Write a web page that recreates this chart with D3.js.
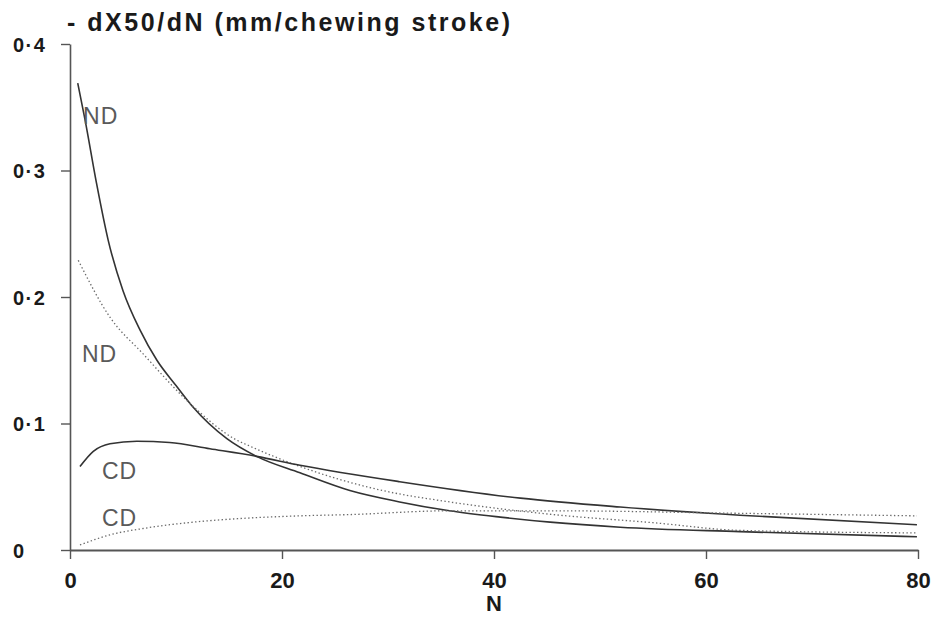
<!DOCTYPE html>
<html>
<head>
<meta charset="utf-8">
<script src="https://cdn.jsdelivr.net/npm/d3@7"></script>
<style>
  html, body { margin: 0; padding: 0; background: #fff; }
  svg { display: block; }
  text { font-family: "Liberation Sans", Arial, Helvetica, sans-serif; }
</style>
</head>
<body>
<svg id="chart" width="936" height="618"></svg>
<script>
// ---- data ----
const xTicks = [0, 20, 40, 60, 80];
const yTicks = [0, 0.1, 0.2, 0.3, 0.4];
const titleText = "- dX50/dN (mm/chewing stroke)";
const xTitle = "N";

// ND, solid line
const ndSolidN = [0.73, 1.42, 2.5, 3.6, 5.0, 6.6, 8.2, 10.0, 11.6, 14.8, 17.6, 21.7, 26.4, 31.1, 35.8, 40.6, 45.3, 51.9, 63.2, 79.9];
const ndSolidV = [0.369, 0.340, 0.290, 0.245, 0.205, 0.174, 0.150, 0.130, 0.113, 0.088, 0.074, 0.061, 0.047, 0.038, 0.031, 0.026, 0.022, 0.018, 0.0145, 0.0105];

// ND, dotted line
const ndDotN = [0.78, 3.77, 6.9, 11.3, 15.7, 17.0, 21.7, 29.5, 35.8, 45.6, 55.0, 63.2, 79.9];
const ndDotV = [0.229, 0.184, 0.155, 0.116, 0.087, 0.082, 0.066, 0.047, 0.038, 0.028, 0.0216, 0.0155, 0.0135];

// CD, solid line
const cdSolidN = [0.94, 2.2, 3.77, 6.3, 9.4, 13.2, 17.6, 21.7, 31.1, 42.5, 51.9, 63.2, 79.9];
const cdSolidV = [0.066, 0.078, 0.084, 0.086, 0.085, 0.080, 0.074, 0.067, 0.054, 0.041, 0.034, 0.0275, 0.020];

// CD, dotted line
const cdDotN = [0.94, 3.77, 6.9, 11.6, 16.3, 21.7, 26.4, 35.8, 45.3, 63.2, 79.9];
const cdDotV = [0.004, 0.012, 0.017, 0.022, 0.025, 0.027, 0.028, 0.031, 0.031, 0.029, 0.027];

const seriesLabels = ["ND", "ND", "CD", "CD"];

// ---- drawing ----
const svg = d3.select("#chart");
const x = d3.scaleLinear().domain([0, 80]).range([70, 918]);
const y = d3.scaleLinear().domain([0, 0.4]).range([550, 44]);

const fmt = d => d === 0 ? "0" : d3.format(".1f")(d).replace(".", "\u00B7");

// Y axis
const gy = svg.append("g").attr("transform", `translate(${x(0)},0)`)
  .call(d3.axisLeft(y).tickValues(yTicks).tickSize(9).tickSizeOuter(0).tickFormat(fmt));
gy.select(".domain").attr("stroke", "#555").attr("stroke-width", 1.6);
gy.selectAll(".tick line").attr("stroke", "#555").attr("stroke-width", 1.4);
gy.selectAll(".tick text")
  .attr("text-anchor", "start")
  .attr("x", 13 - x(0))
  .attr("dy", "0.36em")
  .style("font-size", "20px")
  .style("font-weight", "bold")
  .style("letter-spacing", "1.5px")
  .attr("fill", "#1a1a1a");

// X axis
const gx = svg.append("g").attr("transform", `translate(0,${y(0)})`)
  .call(d3.axisBottom(x).tickValues(xTicks).tickSize(9).tickSizeOuter(0).tickFormat(d3.format("d")));
gx.select(".domain").attr("stroke", "#555").attr("stroke-width", 1.8);
gx.selectAll(".tick line").attr("stroke", "#555").attr("stroke-width", 1.4);
gx.selectAll(".tick text")
  .attr("y", 0).attr("dy", "38px")
  .style("font-size", "22px")
  .style("font-weight", "bold")
  .attr("fill", "#1a1a1a");

// Title & axis label
svg.append("text")
  .attr("x", 67).attr("y", 31)
  .attr("textLength", 443).attr("lengthAdjust", "spacing")
  .style("font-size", "25px").style("font-weight", "bold")
  .attr("fill", "#1a1a1a")
  .text(titleText);

svg.append("text")
  .attr("x", x(40)).attr("y", 611)
  .attr("text-anchor", "middle")
  .style("font-size", "22px").style("font-weight", "bold")
  .attr("fill", "#1a1a1a")
  .text(xTitle);

// Lines
const line = d3.line().x(d => x(d[0])).y(d => y(d[1])).curve(d3.curveMonotoneX);
const zip = (a, b) => a.map((v, i) => [v, b[i]]);

const series = [
  { pts: zip(ndSolidN, ndSolidV), dotted: false },
  { pts: zip(ndDotN, ndDotV), dotted: true },
  { pts: zip(cdSolidN, cdSolidV), dotted: false },
  { pts: zip(cdDotN, cdDotV), dotted: true }
];

series.forEach(s => {
  svg.append("path")
    .attr("d", line(s.pts))
    .attr("fill", "none")
    .attr("stroke", s.dotted ? "#6a6a6a" : "#333")
    .attr("stroke-width", s.dotted ? 1.3 : 1.6)
    .attr("stroke-dasharray", s.dotted ? "1.4,2.4" : null)
    .attr("stroke-linecap", "butt");
});

// Curve labels (positions in data units)
const labelPos = [[1.23, 0.337], [1.13, 0.1486], [3.02, 0.0561], [3.02, 0.019]];
seriesLabels.forEach((t, i) => {
  svg.append("text")
    .attr("x", x(labelPos[i][0])).attr("y", y(labelPos[i][1]))
    .style("font-size", "23px")
    .style("letter-spacing", "1px")
    .attr("fill", "#5a5a5a")
    .text(t);
});
</script>
</body>
</html>
